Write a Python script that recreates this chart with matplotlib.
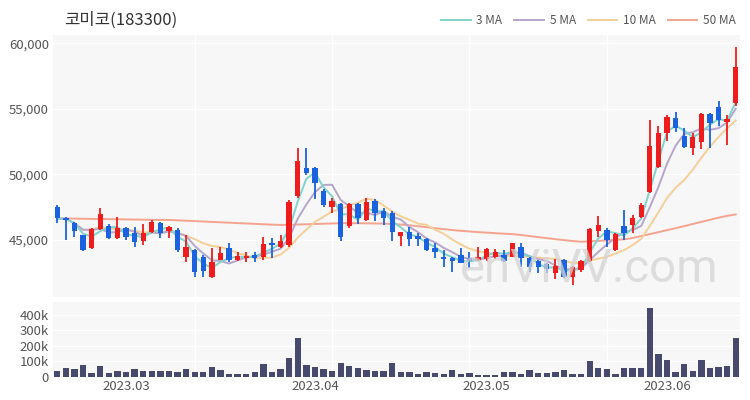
import matplotlib
matplotlib.use('Agg')
import matplotlib.pyplot as plt
import numpy as np
import pandas as pd
from matplotlib.ticker import FuncFormatter

plt.rcParams['font.family'] = ['Noto Sans CJK KR', 'DejaVu Sans']

title = "코미코(183300)"

opens = [47540, 46655, 46270, 45380, 44370, 45840, 46070, 45180, 45890, 45510,
         44920, 45630, 46270, 45690, 45760, 43730, 44240, 43730, 42200, 43470,
         44370, 43470, 43650, 43860, 43730, 44750, 44490, 44620, 48360, 50470,
         50470, 48740, 47490, 47720, 46070, 47720, 46530, 47980, 47210, 47040,
         45330, 45630, 45300, 45050, 44370, 43730, 43600, 43860, 43600, 43470,
         43530, 43730, 43860, 43730, 44490, 43600, 43420, 43170, 42510, 43470,
         42150, 42710, 43420, 45710, 45760, 44240, 46070, 46140, 46780, 48690,
         50550, 53190, 54290, 52940, 52000, 52500, 54610, 55120, 54030, 55480]
highs = [47690, 46780, 46400, 45380, 45900, 47460, 46200, 46780, 46020, 46010,
         46200, 46530, 46400, 46100, 45890, 45380, 44340, 43880, 44370, 44500,
         44750, 44110, 44110, 44060, 45200, 45130, 45380, 48020, 52000, 52000,
         50600, 48870, 48240, 47840, 47840, 47840, 48240, 48110, 47460, 47210,
         45630, 46010, 45510, 45130, 44750, 44240, 43730, 44370, 44110, 44490,
         44370, 44290, 44240, 44800, 44750, 43730, 43470, 43270, 43530, 43530,
         42990, 43470, 45890, 46830, 45890, 45510, 47250, 46910, 47840, 54160,
         53700, 54540, 54800, 53570, 53190, 54720, 54720, 55630, 54540, 59690]
lows = [46270, 45000, 45250, 44160, 44290, 45760, 45050, 45100, 44990, 44490,
        44620, 45570, 45130, 45130, 44110, 43350, 42200, 42200, 42080, 43470,
        43350, 43420, 43350, 43350, 43470, 43600, 44370, 44490, 48220, 49960,
        48100, 47540, 47030, 44960, 45910, 46240, 46450, 46450, 46140, 44960,
        44570, 44570, 44570, 44160, 43610, 42960, 42580, 43220, 42830, 43390,
        43390, 43530, 43350, 43670, 42960, 42580, 42450, 42470, 41990, 42070,
        41570, 42560, 43350, 45250, 44490, 44160, 45000, 45560, 46700, 48610,
        50470, 52550, 53270, 52040, 51490, 51910, 52050, 53700, 52250, 55250]
closes = [46655, 46530, 45690, 44240, 45820, 46960, 45130, 45890, 45250, 44870,
          45510, 46400, 45510, 45970, 44240, 44440, 42580, 42630, 43350, 43990,
          43470, 43780, 43780, 43650, 44700, 44620, 44920, 47920, 50990, 50090,
          49330, 47670, 47980, 45200, 47720, 46660, 47880, 47040, 46660, 45600,
          45630, 45050, 45050, 44240, 44110, 43530, 43420, 43270, 43420, 43730,
          44290, 44110, 43420, 44750, 43600, 42960, 42960, 42760, 43020, 42150,
          42920, 43420, 45810, 46140, 45000, 45460, 45560, 46660, 47670, 52170,
          53190, 54410, 53530, 52120, 52880, 54610, 53900, 54160, 54230, 58180]
volumes_k = [37, 58, 52, 76, 25, 70, 27, 41, 29, 54,
             41, 41, 41, 37, 35, 52, 29, 29, 66, 45,
             21, 21, 21, 29, 82, 29, 49, 120, 247, 75,
             65, 50, 38, 88, 72, 55, 48, 38, 38, 88,
             30, 30, 18, 30, 25, 22, 45, 22, 25, 15,
             15, 15, 33, 30, 22, 45, 25, 25, 30, 45,
             20, 20, 100, 55, 50, 20, 55, 55, 55, 440,
             145, 110, 35, 82, 38, 108, 58, 62, 70, 250]
ma50 = [46650, 46640, 46630, 46620, 46610, 46600, 46590, 46580, 46570, 46560,
        46550, 46540, 46535, 46530, 46500, 46470, 46440, 46410, 46380, 46350,
        46320, 46290, 46260, 46230, 46200, 46170, 46150, 46150, 46180, 46200,
        46220, 46240, 46260, 46280, 46280, 46280, 46270, 46260, 46250, 46220,
        46180, 46120, 46050, 45980, 45900, 45830, 45760, 45700, 45650, 45600,
        45560, 45520, 45480, 45450, 45380, 45300, 45220, 45140, 45060, 44990,
        44920, 44870, 44900, 44930, 44970, 45010, 45050, 45150, 45300, 45450,
        45600, 45750, 45900, 46060, 46220, 46380, 46540, 46700, 46840, 46950]
date_ticks = [8, 30, 50, 71]
date_labels = ["2023.03", "2023.04", "2023.05", "2023.06"]
price_ticks = [45000, 50000, 55000, 60000]
vol_ticks_k = [0, 100, 200, 300, 400]

df = pd.DataFrame({'o': opens, 'h': highs, 'l': lows, 'c': closes, 'v': volumes_k})
n = len(df)
x = np.arange(n)
ma3 = df['c'].rolling(3, min_periods=1).mean()
ma5 = df['c'].rolling(5, min_periods=1).mean()
ma10 = df['c'].rolling(10, min_periods=1).mean()

W, H = 750, 400
fig = plt.figure(figsize=(7.5, 4), dpi=100)
bg = '#f7f7f7'
ax = fig.add_axes([53 / W, 1 - 297 / H, 687 / W, 262 / H])
axv = fig.add_axes([53 / W, 1 - 377 / H, 687 / W, 75 / H], sharex=ax)

RED = '#ee1c1c'
BLUE = '#1a62e0'
for a in (ax, axv):
    a.set_facecolor(bg)
    for s in a.spines.values():
        s.set_visible(False)
    a.tick_params(length=0, colors='#555555', labelsize=9.5, pad=3)

# grid
for a in (ax, axv):
    for g in [16, 32, 48, 64]:
        a.axvline(g, color='white', lw=1.0, zorder=0)
for p in price_ticks:
    ax.axhline(p, color='white', lw=1.0, zorder=0)
for v in vol_ticks_k:
    axv.axhline(v, color='white', lw=1.0, zorder=0)

# moving averages
ax.plot(x, ma50, color='#f4a48e', lw=1.4, label='50 MA', zorder=1)
ax.plot(x, ma10, color='#f5cf98', lw=1.4, label='10 MA', zorder=1)
ax.plot(x, ma5, color='#b7a6cc', lw=1.4, label='5 MA', zorder=1)
ax.plot(x, ma3, color='#7fd3cc', lw=1.4, label='3 MA', zorder=1)

# candles
bw = 0.62
for i in range(n):
    o, h, l, c = df.loc[i, ['o', 'h', 'l', 'c']]
    col = RED if c >= o else BLUE
    ax.vlines(i, l, h, color=col, lw=1.3, zorder=3)
    lo, hi = min(o, c), max(o, c)
    if hi - lo < 60:
        hi = lo + 60
    ax.bar(i, hi - lo, bottom=lo, width=bw, color=col, zorder=4, linewidth=0)

ax.set_xlim(-0.5, n - 0.5)
ax.set_ylim(40650, 60640)
ax.set_yticks(price_ticks)
ax.yaxis.set_major_formatter(FuncFormatter(lambda v, p: f"{int(v):,}"))
ax.tick_params(axis='x', labelbottom=False)

# watermark
fig.text(460 / W, 1 - 291 / H, 'enViVV.com', ha='left', va='bottom',
         fontsize=34, color='#d4d4d4', alpha=0.75, zorder=2, family='Roboto')

# volume
axv.bar(x, df['v'], width=0.74, color='#474a6d', zorder=3)
axv.set_ylim(0, 480)
axv.set_yticks(vol_ticks_k)
axv.yaxis.set_major_formatter(FuncFormatter(lambda v, p: '0' if v == 0 else f"{int(v)}k"))
axv.set_xticks(date_ticks)
axv.set_xticklabels(date_labels)
axv.tick_params(axis='x', pad=2)

fig.text(64 / W, 1 - 20 / H, title, fontsize=12, color='#333333', va='center', ha='left')

handles, labels = ax.get_legend_handles_labels()
order = [3, 2, 1, 0]
leg = ax.legend([handles[k] for k in order], [labels[k] for k in order], ncol=4,
                loc='lower right', bbox_to_anchor=(1.005, 1.0), frameon=False,
                fontsize=8.5, handlelength=2.5, columnspacing=1.0, handletextpad=0.5,
                borderaxespad=0.25, labelcolor='#555555')

fig.savefig('out.png', dpi=100, facecolor='white')
